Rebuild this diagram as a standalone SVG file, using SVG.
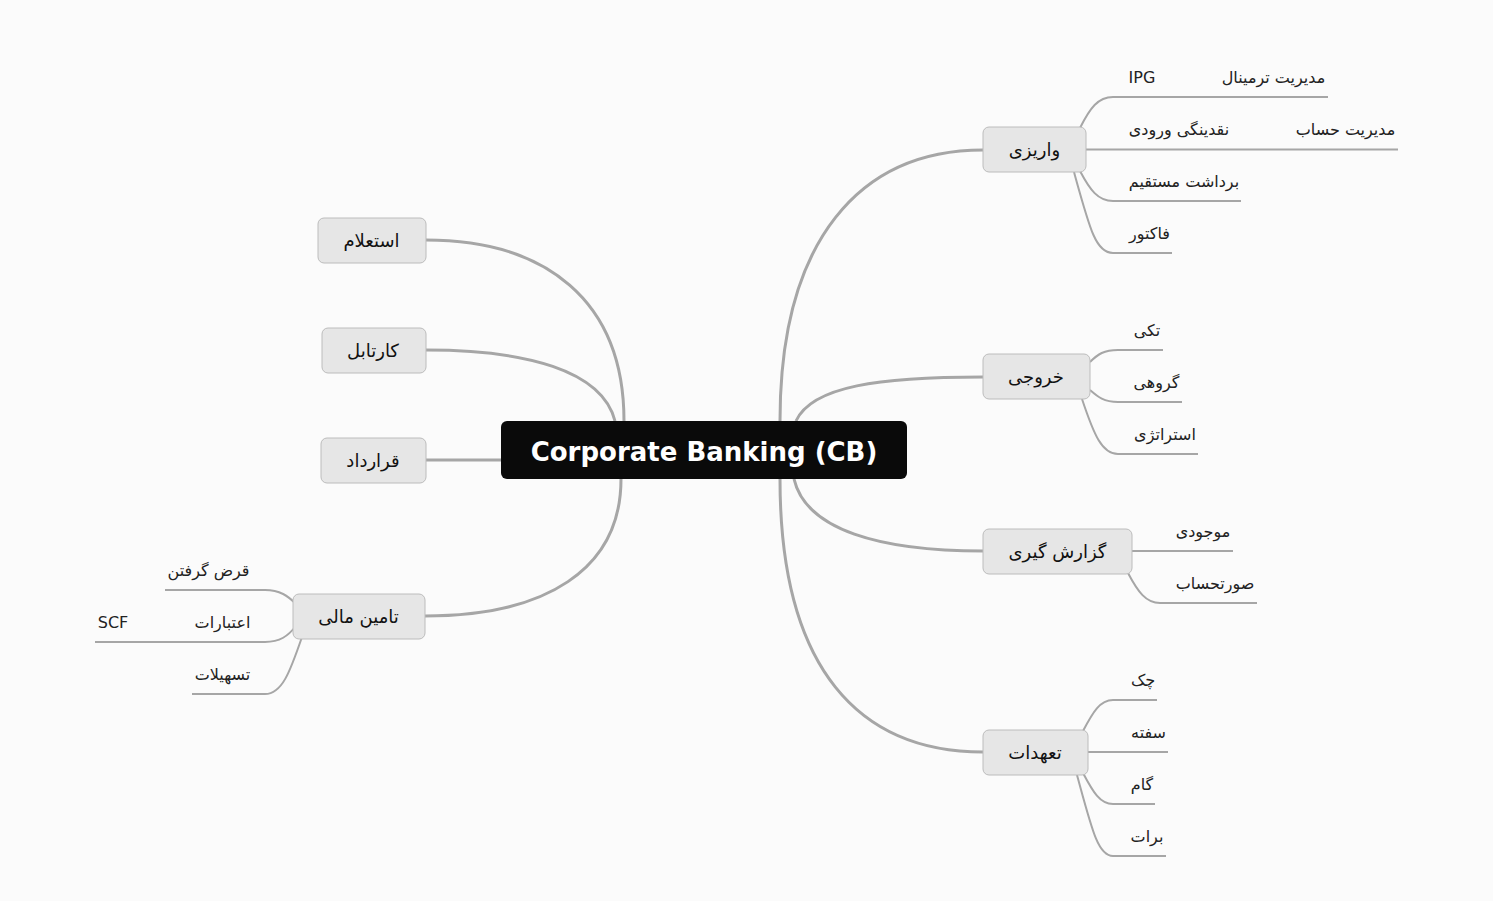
<svg xmlns="http://www.w3.org/2000/svg" width="1493" height="901" viewBox="0 0 1493 901">
<style>
.bg{fill:#fbfbfb}
.node rect{fill:#e6e6e6;stroke:#bcbcbc;stroke-width:1}
.node text{font-family:"DejaVu Sans",sans-serif;font-size:18px;fill:#111;text-anchor:middle}
.root rect{fill:#0a0a0a}
.root text{font-family:"DejaVu Sans",sans-serif;font-size:26px;font-weight:bold;fill:#fff;text-anchor:middle}
.main{fill:none;stroke:#a6a6a6;stroke-width:3}
.sub{fill:none;stroke:#a6a6a6;stroke-width:2}
.lbl{font-family:"DejaVu Sans",sans-serif;font-size:16px;fill:#222;text-anchor:middle}
</style>
<rect class="bg" x="0" y="0" width="1493" height="901"/>
<g id="connectors">
<path class="main" d="M780,421 C780,240 860,150 983,150"/>
<path class="main" d="M796,421 C812,386 880,377 983,377"/>
<path class="main" d="M794,479 C806,530 880,551 983,551"/>
<path class="main" d="M780,479 C780,670 860,752 983,752"/>
<path class="main" d="M624,421 C624,300 545,240 426,240"/>
<path class="main" d="M615,421 C602,370 525,350 426,350"/>
<path class="main" d="M426,460 L501,460"/>
<path class="main" d="M621,479 C621,570 545,616 425,616"/>
<!-- واریزی -->
<path class="sub" d="M1080,128 C1090,108 1098,97 1113,97 L1328,97"/>
<path class="sub" d="M1086,149.5 L1398,149.5"/>
<path class="sub" d="M1080,171 C1090,190 1098,201 1113,201 L1241,201"/>
<path class="sub" d="M1074,172 C1090,230 1096,253 1113,253 L1172,253"/>
<!-- خروجی -->
<path class="sub" d="M1090,362 C1098,354 1104,350 1118,350 L1163,350"/>
<path class="sub" d="M1090,390 C1098,397 1104,402 1118,402 L1182,402"/>
<path class="sub" d="M1082,399 C1094,435 1102,454 1118,454 L1198,454"/>
<!-- گزارش گیری -->
<path class="sub" d="M1132,551 L1233,551"/>
<path class="sub" d="M1128,573 C1138,592 1146,603 1160,603 L1257,603"/>
<!-- تعهدات -->
<path class="sub" d="M1083,731 C1093,712 1100,700 1113,700 L1157,700"/>
<path class="sub" d="M1088,752 L1168,752"/>
<path class="sub" d="M1083,773 C1093,792 1100,804 1113,804 L1155,804"/>
<path class="sub" d="M1077,775 C1092,830 1098,856 1113,856 L1166,856"/>
<!-- تامین مالی -->
<path class="sub" d="M296,604 C288,596 280,590 265,590 L165,590"/>
<path class="sub" d="M296,626 C288,636 280,642 265,642 L95,642"/>
<path class="sub" d="M302,637 C290,672 282,694 265,694 L192,694"/>
</g>
<g id="root" class="root"><rect x="501" y="421" width="406" height="58" rx="6"/><text x="704" y="461">Corporate Banking (CB)</text></g>
<g id="n-variz" class="node"><rect x="983" y="127" width="103" height="45" rx="6"/><text x="1034.5" y="156">واریزی</text></g>
<g id="n-khoruji" class="node"><rect x="983" y="354" width="107" height="45" rx="6"/><text x="1036" y="383">خروجی</text></g>
<g id="n-gozaresh" class="node"><rect x="983" y="529" width="149" height="45" rx="6"/><text x="1057.5" y="558">گزارش گیری</text></g>
<g id="n-taahodat" class="node"><rect x="983" y="730" width="105" height="45" rx="6"/><text x="1035" y="759">تعهدات</text></g>
<g id="n-estelam" class="node"><rect x="318" y="218" width="108" height="45" rx="6"/><text x="371.5" y="247">استعلام</text></g>
<g id="n-kartabl" class="node"><rect x="322" y="328" width="104" height="45" rx="6"/><text x="373" y="357">کارتابل</text></g>
<g id="n-gharardad" class="node"><rect x="321" y="438" width="105" height="45" rx="6"/><text x="373" y="467">قرارداد</text></g>
<g id="n-tamin" class="node"><rect x="293" y="594" width="132" height="45" rx="6"/><text x="358.5" y="623">تامین مالی</text></g>
<g id="labels">
<text class="lbl" x="1142" y="83">IPG</text>
<text class="lbl" x="1273.5" y="83">مدیریت ترمینال</text>
<text class="lbl" x="1179" y="135">نقدینگی ورودی</text>
<text class="lbl" x="1345.5" y="135">مدیریت حساب</text>
<text class="lbl" x="1184" y="187">برداشت مستقیم</text>
<text class="lbl" x="1149.5" y="239">فاکتور</text>
<text class="lbl" x="1147" y="336">تکی</text>
<text class="lbl" x="1156.5" y="388">گروهی</text>
<text class="lbl" x="1165" y="440">استراتژی</text>
<text class="lbl" x="1203" y="537">موجودی</text>
<text class="lbl" x="1215" y="589">صورتحساب</text>
<text class="lbl" x="1143" y="686">چک</text>
<text class="lbl" x="1148.5" y="738">سفته</text>
<text class="lbl" x="1142" y="790">گام</text>
<text class="lbl" x="1147" y="842">برات</text>
<text class="lbl" x="208.5" y="576">قرض گرفتن</text>
<text class="lbl" x="222.5" y="628">اعتبارات</text>
<text class="lbl" x="113" y="628">SCF</text>
<text class="lbl" x="222.5" y="680">تسهیلات</text>
</g>
</svg>
